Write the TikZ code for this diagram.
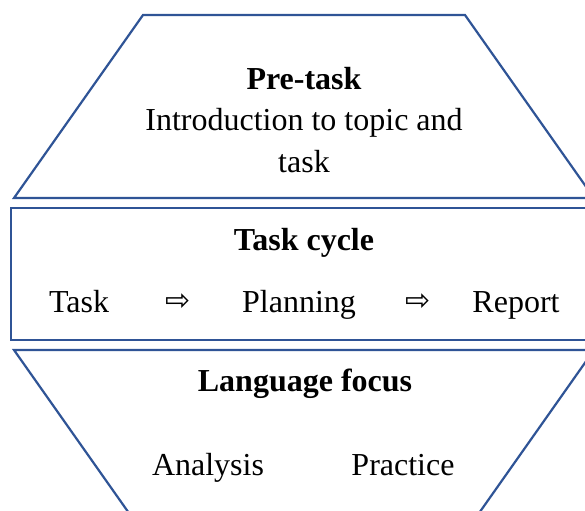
\documentclass[tikz,border=0pt]{standalone}
\usepackage{fontspec}
\setmainfont{Liberation Serif}
\newfontfamily\arrowfont{DejaVu Sans}
\usetikzlibrary{positioning}

\begin{document}
\begin{tikzpicture}[
    x=0.5pt,y=-0.5pt,
    every node/.style={inner sep=0pt,anchor=base,font=\fontsize{16}{21}\selectfont},
    stage/.style={draw=color1,line width=1.1pt,fill=white},
    heading/.style={font=\fontsize{16}{21}\selectfont\bfseries},
    flowarrow/.style={font=\arrowfont\fontsize{15}{17}\selectfont}
  ]

  \definecolor{color1}{HTML}{2F5496}

  \useasboundingbox (0,0) rectangle (585,510);
  \clip (0,0) rectangle (585,510);

  % stages
  \draw[stage] (143,15) -- (465,15) -- (594,198) -- (14,198) -- cycle;
  \draw[stage] (11,208) rectangle (600,340);
  \draw[stage] (14,350) -- (594,350) -- (465,533) -- (143,533) -- cycle;

  % pre-task
  \node[heading]             at (304,89)  (pre)    {Pre-task};
  \node[align=center]        at (304,172) (intro)  {Introduction to topic and\\task};

  % task cycle
  \node[heading]             at (304,250) (cycle)  {Task cycle};
  \node                      at (79,312)  (task)   {Task};
  \node[flowarrow]           at (178,310) (arr1)   {⇨};
  \node                      at (299,312) (plan)   {Planning};
  \node[flowarrow]           at (418,310) (arr2)   {⇨};
  \node                      at (516,312) (report) {Report};

  % language focus
  \node[heading]             at (305,391) (lang)   {Language focus};
  \node                      at (208,475) (anal)   {Analysis};
  \node                      at (403,475) (prac)   {Practice};
\end{tikzpicture}
\end{document}
